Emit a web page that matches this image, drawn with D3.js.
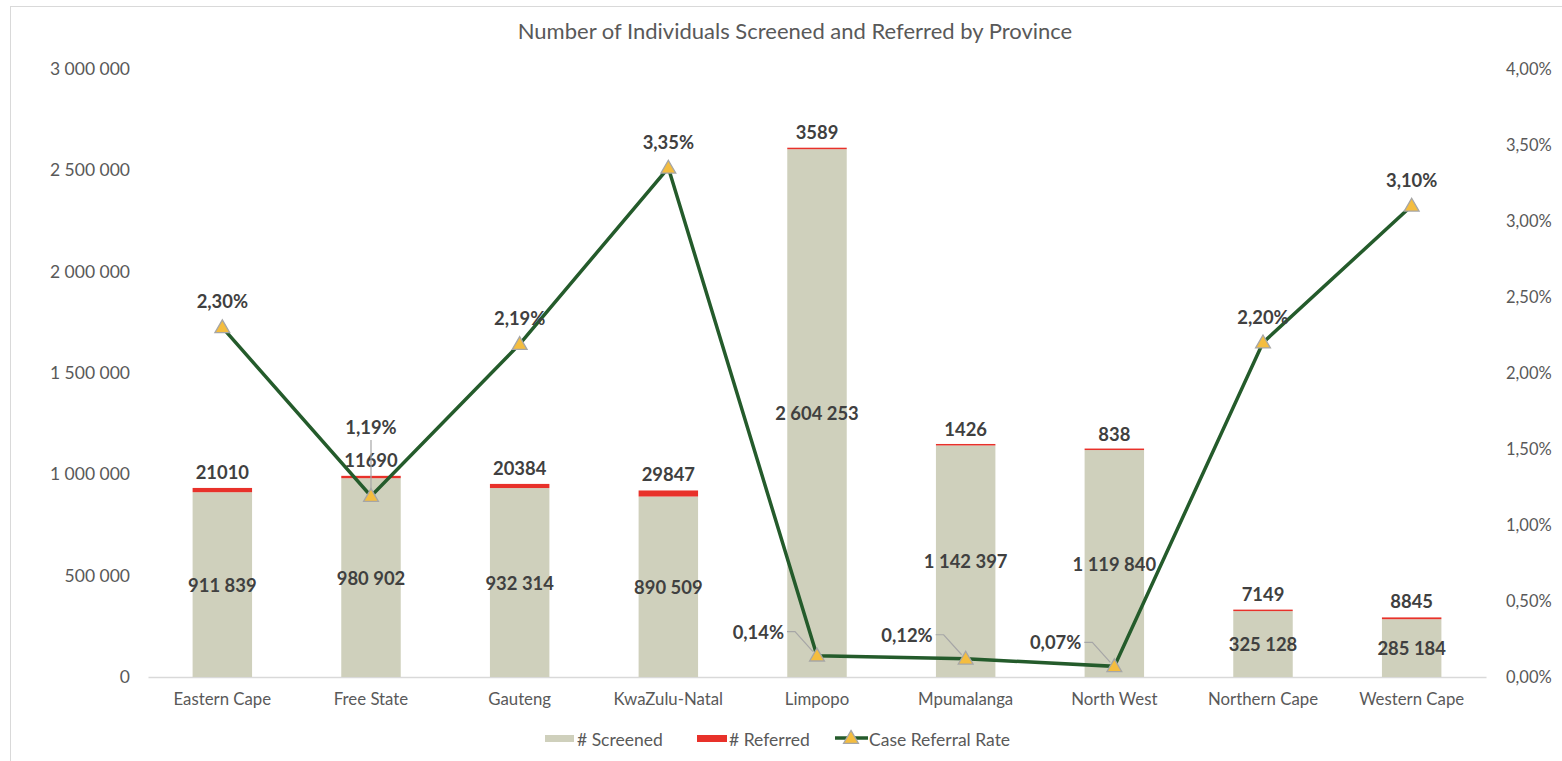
<!DOCTYPE html>
<html>
<head>
<meta charset="utf-8">
<script src="https://cdn.jsdelivr.net/npm/d3@7"></script>
<style>
  body { margin: 0; background: #fff; }
  svg text { font-family: Lato, "Open Sans", sans-serif; }
</style>
</head>
<body>
<div id="chart"></div>
<script>
// data
var provinces = ['Eastern Cape', 'Free State', 'Gauteng', 'KwaZulu-Natal', 'Limpopo',
  'Mpumalanga', 'North West', 'Northern Cape', 'Western Cape'];
var screened = [911839, 980902, 932314, 890509, 2604253, 1142397, 1119840, 325128, 285184];
var referred = [21010, 11690, 20384, 29847, 3589, 1426, 838, 7149, 8845];
var rate = [2.30, 1.19, 2.19, 3.35, 0.14, 0.12, 0.07, 2.20, 3.10];
// how the rate label sits next to its marker
var rateLabelSide = ['above', 'leader-up', 'above', 'above', 'left', 'left', 'left', 'above', 'above'];
var leftTicks = [0, 500000, 1000000, 1500000, 2000000, 2500000, 3000000];
var rightTicks = [0, 0.5, 1, 1.5, 2, 2.5, 3, 3.5, 4];

var W = 1562, H = 761;
var margin = {top: 69, right: 76, bottom: 84, left: 148};
var width = W - margin.left - margin.right,
    height = H - margin.top - margin.bottom;

var SCREEN_COL = '#cfd0bc', REF_COL = '#e8312a', LINE_COL = '#245b2b',
    TRI_COL = '#f4bd3f', LABEL_COL = '#404040', AXIS_COL = '#595959';

var fmtSpace = function(v) { return d3.format(',')(v).replace(/,/g, ' '); };
var fmtPct = function(v) { return v.toFixed(2).replace('.', ',') + '%'; };

var svg = d3.select('#chart').append('svg')
    .attr('width', W)
    .attr('height', H);

// chart frame
svg.append('rect')
    .attr('x', 10.5).attr('y', 6.5)
    .attr('width', W).attr('height', H)
    .attr('fill', 'none')
    .attr('stroke', '#d9d9d9');

svg.append('text')
    .attr('x', 795).attr('y', 39)
    .attr('text-anchor', 'middle')
    .attr('font-size', 22)
    .attr('fill', AXIS_COL)
    .text('Number of Individuals Screened and Referred by Province');

var g = svg.append('g')
    .attr('transform', 'translate(' + margin.left + ',' + margin.top + ')');

var x = d3.scaleBand()
    .domain(provinces)
    .range([0, width])
    .paddingInner(0.6)
    .paddingOuter(0.3);

var y = d3.scaleLinear().domain([0, 3000000]).range([height, 0]);
var y2 = d3.scaleLinear().domain([0, 4]).range([height, 0]);

var rows = provinces.map(function(p, i) {
  return {name: p, screened: screened[i], referred: referred[i], rate: rate[i], side: rateLabelSide[i]};
});
var cx = function(d) { return x(d.name) + x.bandwidth() / 2; };

// axes
var yAxis = d3.axisLeft(y).tickValues(leftTicks).tickSize(0).tickPadding(18).tickFormat(fmtSpace);
var yAxisR = d3.axisRight(y2).tickValues(rightTicks).tickSize(0).tickPadding(29).tickFormat(fmtPct);
var xAxis = d3.axisBottom(x).tickSize(0).tickPadding(16);

g.append('g').attr('class', 'y axis').call(yAxis)
    .call(function(s) { s.select('.domain').remove(); });
g.append('g').attr('class', 'y2 axis')
    .attr('transform', 'translate(' + (width - 9) + ',0)')
    .call(yAxisR)
    .call(function(s) { s.select('.domain').remove(); });
g.append('g').attr('class', 'x axis')
    .attr('transform', 'translate(0,' + height + ')')
    .call(xAxis)
    .call(function(s) { s.select('.domain').attr('stroke', '#d9d9d9').attr('stroke-width', 1.5); });

g.selectAll('.axis text')
    .attr('font-size', 17.5)
    .attr('fill', AXIS_COL);
g.selectAll('.y2.axis text').attr('font-size', 16.5);
g.selectAll('.x.axis text').attr('font-size', 16.8);

// stacked bars
g.selectAll('.bar.screened')
    .data(rows)
  .enter().append('rect')
    .attr('class', 'bar screened')
    .attr('x', d => x(d.name))
    .attr('width', x.bandwidth())
    .attr('y', d => y(d.screened))
    .attr('height', d => height - y(d.screened))
    .attr('fill', SCREEN_COL);

g.selectAll('.bar.referred')
    .data(rows)
  .enter().append('rect')
    .attr('class', 'bar referred')
    .attr('x', d => x(d.name))
    .attr('width', x.bandwidth())
    .attr('y', d => Math.min(y(d.screened + d.referred), y(d.screened) - 1.5))
    .attr('height', d => Math.max(y(d.screened) - y(d.screened + d.referred), 1.5))
    .attr('fill', REF_COL);

g.selectAll('.lbl.screened')
    .data(rows)
  .enter().append('text')
    .attr('class', 'lbl screened')
    .attr('x', cx)
    .attr('y', d => (height + y(d.screened)) / 2 + 7)
    .attr('text-anchor', 'middle')
    .attr('font-size', 18.4).attr('font-weight', 'bold')
    .attr('fill', LABEL_COL)
    .text(d => fmtSpace(d.screened));

g.selectAll('.lbl.referred')
    .data(rows)
  .enter().append('text')
    .attr('class', 'lbl referred')
    .attr('x', cx)
    .attr('y', d => y(d.screened + d.referred) - 9)
    .attr('text-anchor', 'middle')
    .attr('font-size', 18.4).attr('font-weight', 'bold')
    .attr('fill', LABEL_COL)
    .text(d => d.referred);

// rate line
var line = d3.line().x(cx).y(d => y2(d.rate));
g.append('path')
    .datum(rows)
    .attr('d', line)
    .attr('fill', 'none')
    .attr('stroke', LINE_COL)
    .attr('stroke-width', 3.5);

// leader lines for labels pushed away from markers
g.selectAll('.leader')
    .data(rows.filter(d => d.side !== 'above'))
  .enter().append('path')
    .attr('class', 'leader')
    .attr('fill', 'none')
    .attr('stroke', '#a6a6a6')
    .attr('stroke-width', 1.2)
    .attr('d', d => {
      var px = cx(d), py = y2(d.rate);
      if (d.side === 'leader-up') return 'M' + px + ',' + (py - 6) + 'V' + (py - 56);
      return 'M' + (px - 4) + ',' + (py - 4) + 'L' + (px - 22) + ',' + (py - 24) + 'H' + (px - 30);
    });

var tri = d3.symbol().type(d3.symbolTriangle).size(95);
g.selectAll('.marker')
    .data(rows)
  .enter().append('path')
    .attr('class', 'marker')
    .attr('transform', d => 'translate(' + cx(d) + ',' + (y2(d.rate) + 1) + ')')
    .attr('d', tri)
    .attr('fill', TRI_COL)
    .attr('stroke', '#a6a6a6')
    .attr('stroke-width', 1.3);

g.selectAll('.lbl.rate')
    .data(rows)
  .enter().append('text')
    .attr('class', 'lbl rate')
    .attr('x', d => d.side === 'left' ? cx(d) - 33 : cx(d))
    .attr('y', d => {
      var py = y2(d.rate);
      if (d.side === 'left') return py - 17;
      if (d.side === 'leader-up') return py - 62;
      return py - 19;
    })
    .attr('text-anchor', d => d.side === 'left' ? 'end' : 'middle')
    .attr('font-size', 18.4).attr('font-weight', 'bold')
    .attr('fill', LABEL_COL)
    .text(d => fmtPct(d.rate));

// legend
var legend = svg.append('g').attr('transform', 'translate(0,746)');
legend.append('rect').attr('x', 545).attr('y', -11).attr('width', 29).attr('height', 7).attr('fill', SCREEN_COL);
legend.append('text').attr('x', 577).attr('y', 0).text('# Screened');
legend.append('rect').attr('x', 697).attr('y', -11).attr('width', 30).attr('height', 7).attr('fill', REF_COL);
legend.append('text').attr('x', 729).attr('y', 0).text('# Referred');
legend.append('line').attr('x1', 835).attr('x2', 868).attr('y1', -8).attr('y2', -8)
    .attr('stroke', LINE_COL).attr('stroke-width', 3.5);
legend.append('path').attr('transform', 'translate(851,-7)').attr('d', tri)
    .attr('fill', TRI_COL).attr('stroke', '#a6a6a6').attr('stroke-width', 1.3);
legend.append('text').attr('x', 869).attr('y', 0).text('Case Referral Rate');
legend.selectAll('text').attr('font-size', 17.5).attr('fill', AXIS_COL);
</script>
</body>
</html>
